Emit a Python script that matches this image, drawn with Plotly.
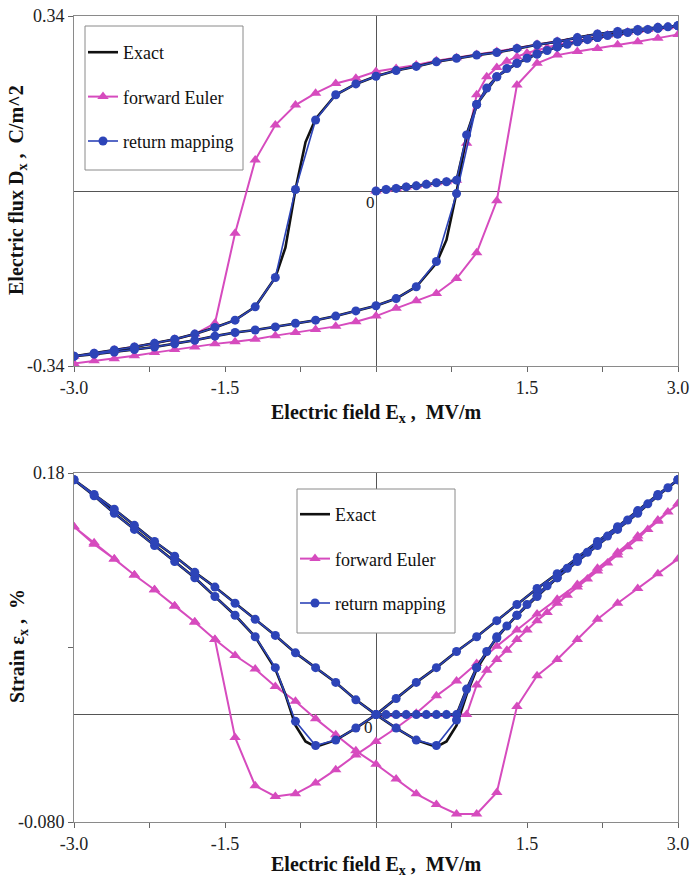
import plotly.graph_objects as go

# ---------------- field grids (MV/m) ----------------
E_LOAD = [0.0, 0.1, 0.2, 0.3, 0.4, 0.5, 0.6, 0.7, 0.8, 0.9, 1.0, 1.1, 1.2, 1.3, 1.4, 1.5,
          1.6, 1.7, 1.8, 1.9, 2.0, 2.1, 2.2, 2.3, 2.4, 2.5, 2.6, 2.7, 2.8, 2.9, 3.0]
E_DOWN = [3.0, 2.8, 2.6, 2.4, 2.2, 2.0, 1.8, 1.6, 1.4, 1.2, 1.0, 0.8, 0.6, 0.4, 0.2, 0.0,
          -0.2, -0.4, -0.6, -0.8, -1.0, -1.2, -1.4, -1.6, -1.8, -2.0, -2.2, -2.4, -2.6, -2.8, -3.0]
E_UP = [-3.0, -2.8, -2.6, -2.4, -2.2, -2.0, -1.8, -1.6, -1.4, -1.2, -1.0, -0.8, -0.6, -0.4, -0.2, 0.0,
        0.2, 0.4, 0.6, 0.8, 1.0, 1.2, 1.4, 1.6, 1.8, 2.0, 2.2, 2.4, 2.6, 2.8, 3.0]
E_DOWN_EXACT = [3.0, 2.8, 2.6, 2.4, 2.2, 2.0, 1.8, 1.6, 1.4, 1.2, 1.0, 0.8, 0.6, 0.4, 0.2, 0.0,
                -0.2, -0.4, -0.6, -0.7, -0.8, -0.9, -1.0, -1.2, -1.4, -1.6, -1.8, -2.0, -2.2, -2.4,
                -2.6, -2.8, -3.0]
E_UP_EXACT = [-3.0, -2.8, -2.6, -2.4, -2.2, -2.0, -1.8, -1.6, -1.4, -1.2, -1.0, -0.8, -0.6, -0.4,
              -0.2, 0.0, 0.2, 0.4, 0.6, 0.7, 0.8, 0.9, 1.0, 1.2, 1.4, 1.6, 1.8, 2.0, 2.2, 2.4,
              2.6, 2.8, 3.0]

# ---------------- electric flux D (C/m^2) ----------------
D_EXACT_LOAD = [0.000, 0.003, 0.005, 0.008, 0.010, 0.013, 0.016, 0.018, 0.021, 0.105, 0.166,
                0.200, 0.222, 0.237, 0.248, 0.258, 0.266, 0.273, 0.280, 0.285, 0.290, 0.294,
                0.298, 0.302, 0.305, 0.308, 0.311, 0.314, 0.316, 0.319, 0.321]
D_EXACT_DOWN = [0.321, 0.318, 0.314, 0.310, 0.305, 0.298, 0.290, 0.284, 0.277, 0.269, 0.264,
                0.258, 0.251, 0.242, 0.234, 0.223, 0.208, 0.187, 0.140, 0.095, 0.003, -0.110,
                -0.168, -0.225, -0.251, -0.265, -0.278, -0.288, -0.296, -0.303, -0.309, -0.315,
                -0.321]
D_EXACT_UP = [-0.321, -0.317, -0.313, -0.308, -0.303, -0.297, -0.290, -0.282, -0.275, -0.270,
              -0.264, -0.257, -0.251, -0.243, -0.233, -0.223, -0.209, -0.186, -0.140, -0.095,
              -0.003, 0.110, 0.168, 0.222, 0.248, 0.266, 0.280, 0.290, 0.298, 0.305, 0.311,
              0.316, 0.321]

D_FE_LOAD = [0.000, 0.003, 0.005, 0.008, 0.010, 0.013, 0.016, 0.018, 0.021, 0.093, 0.187,
             0.222, 0.240, 0.252, 0.261, 0.268, 0.274, 0.279, 0.284, 0.288, 0.292, 0.296,
             0.300, 0.303, 0.306, 0.309, 0.312, 0.314, 0.317, 0.319, 0.321]
D_FE_DOWN = [0.321, 0.318, 0.314, 0.310, 0.305, 0.298, 0.291, 0.285, 0.278, 0.271, 0.265,
             0.259, 0.253, 0.245, 0.238, 0.232, 0.219, 0.209, 0.190, 0.167, 0.128, 0.060,
             -0.082, -0.257, -0.278, -0.288, -0.296, -0.303, -0.309, -0.315, -0.321]
D_FE_UP = [-0.335, -0.330, -0.326, -0.320, -0.314, -0.308, -0.303, -0.297, -0.293, -0.288,
           -0.281, -0.275, -0.269, -0.263, -0.254, -0.243, -0.228, -0.213, -0.199, -0.170,
           -0.120, -0.019, 0.206, 0.248, 0.264, 0.271, 0.277, 0.284, 0.290, 0.297, 0.304]

D_RM_LOAD = [0.000, 0.003, 0.005, 0.008, 0.010, 0.013, 0.016, 0.018, 0.021, 0.109, 0.168,
             0.200, 0.222, 0.238, 0.248, 0.258, 0.266, 0.273, 0.280, 0.285, 0.290, 0.294,
             0.298, 0.302, 0.305, 0.308, 0.311, 0.314, 0.316, 0.319, 0.321]
D_RM_DOWN = [0.321, 0.318, 0.314, 0.310, 0.305, 0.298, 0.290, 0.284, 0.277, 0.269, 0.264,
             0.258, 0.251, 0.242, 0.234, 0.223, 0.208, 0.187, 0.138, 0.003, -0.168, -0.225,
             -0.251, -0.265, -0.278, -0.288, -0.296, -0.303, -0.309, -0.315, -0.321]
D_RM_UP = [-0.321, -0.317, -0.313, -0.308, -0.303, -0.297, -0.290, -0.282, -0.275, -0.270,
           -0.264, -0.257, -0.251, -0.243, -0.233, -0.223, -0.209, -0.186, -0.137, -0.005,
           0.168, 0.222, 0.248, 0.266, 0.280, 0.290, 0.298, 0.305, 0.311, 0.316, 0.321]

# ---------------- strain (%) ----------------
S_EXACT_LOAD = [0.0, 0.0, 0.0, 0.0, 0.0, 0.0, 0.0, 0.0, 0.0, 0.019, 0.035, 0.047, 0.057,
                0.066, 0.074, 0.082, 0.089, 0.096, 0.102, 0.109, 0.115, 0.121, 0.127, 0.133,
                0.139, 0.145, 0.151, 0.157, 0.163, 0.169, 0.175]
S_EXACT_DOWN = [0.175, 0.164, 0.152, 0.140, 0.129, 0.117, 0.105, 0.094, 0.082, 0.070, 0.058,
                0.047, 0.035, 0.024, 0.012, 0.000, -0.010, -0.019, -0.024, -0.020, -0.008,
                0.015, 0.034, 0.058, 0.074, 0.088, 0.102, 0.114, 0.126, 0.138, 0.150, 0.163,
                0.175]
S_EXACT_UP = [0.175, 0.164, 0.153, 0.141, 0.129, 0.118, 0.106, 0.095, 0.083, 0.071, 0.059,
              0.046, 0.035, 0.024, 0.011, 0.000, -0.010, -0.019, -0.024, -0.020, -0.008,
              0.015, 0.034, 0.058, 0.074, 0.088, 0.102, 0.114, 0.126, 0.138, 0.150, 0.163,
              0.175]

S_FE_LOAD = [0.0, 0.0, 0.0, 0.0, 0.0, 0.0, 0.0, 0.0, 0.0, 0.0, 0.022, 0.033, 0.041, 0.048,
             0.056, 0.063, 0.070, 0.076, 0.083, 0.089, 0.095, 0.101, 0.107, 0.113, 0.119,
             0.125, 0.131, 0.138, 0.144, 0.151, 0.157]
S_FE_DOWN = [0.157, 0.145, 0.133, 0.121, 0.109, 0.097, 0.086, 0.075, 0.063, 0.051, 0.038,
             0.025, 0.014, 0.001, -0.010, -0.020, -0.030, -0.041, -0.051, -0.059, -0.061,
             -0.053, -0.017, 0.056, 0.069, 0.081, 0.093, 0.104, 0.116, 0.128, 0.140]
S_FE_UP = [0.140, 0.127, 0.116, 0.104, 0.093, 0.081, 0.069, 0.056, 0.044, 0.034, 0.021,
           0.010, -0.003, -0.015, -0.027, -0.037, -0.048, -0.059, -0.067, -0.074, -0.074,
           -0.058, 0.006, 0.029, 0.041, 0.056, 0.071, 0.083, 0.094, 0.105, 0.116]

S_RM_LOAD = [0.0, 0.0, 0.0, 0.0, 0.0, 0.0, 0.0, 0.0, 0.0, 0.019, 0.035, 0.047, 0.057, 0.066,
             0.074, 0.082, 0.089, 0.096, 0.102, 0.109, 0.115, 0.121, 0.127, 0.133, 0.139,
             0.145, 0.151, 0.157, 0.163, 0.169, 0.175]
S_RM_DOWN = [0.175, 0.164, 0.152, 0.140, 0.129, 0.117, 0.105, 0.094, 0.082, 0.070, 0.058,
             0.047, 0.035, 0.024, 0.012, 0.000, -0.010, -0.019, -0.023, -0.005, 0.035, 0.058,
             0.074, 0.088, 0.102, 0.114, 0.126, 0.138, 0.150, 0.163, 0.175]
S_RM_UP = [0.175, 0.164, 0.153, 0.141, 0.129, 0.118, 0.106, 0.095, 0.083, 0.071, 0.059,
           0.046, 0.035, 0.024, 0.011, 0.000, -0.010, -0.019, -0.023, -0.004, 0.035, 0.058,
           0.074, 0.088, 0.102, 0.114, 0.126, 0.138, 0.150, 0.163, 0.175]

# ---------------- axis ticks ----------------
X_TICKS = [-3.0, -1.5, 1.5, 3.0]
X_TICK_TEXT = ["-3.0", "-1.5", "1.5", "3.0"]
X_MINOR = [-2.25, -0.75, 0.0, 0.75, 2.25]
D_TICKS = [-0.34, 0.34]
D_TICK_TEXT = ["-0.34", "0.34"]
S_TICKS = [-0.08, 0.18]
S_TICK_TEXT = ["-0.080", "0.18"]
S_MINOR = [0.05]

BLACK = "#111111"
PINK = "#D64BBE"
BLUE = "#2D44B8"
SERIF = '"Liberation Serif", "Times New Roman", Times, serif'
W, H = 693, 882

E_EX = E_LOAD + E_DOWN_EXACT + E_UP_EXACT
E_ALL = E_LOAD + E_DOWN + E_UP

fig = go.Figure()


def add_panel(xa, ya, leg, d_exact, d_fe, d_rm):
    fig.add_trace(go.Scatter(
        x=E_ALL, y=d_fe, name="forward Euler", mode="lines+markers",
        line=dict(color=PINK, width=2),
        marker=dict(symbol="triangle-up", size=10, color=PINK),
        xaxis=xa, yaxis=ya, legend=leg, legendrank=2, legendgroup=leg + "fe"))
    fig.add_trace(go.Scatter(
        x=E_EX, y=d_exact, name="Exact", mode="lines",
        line=dict(color=BLACK, width=2.6),
        xaxis=xa, yaxis=ya, legend=leg, legendrank=1, legendgroup=leg + "ex"))
    fig.add_trace(go.Scatter(
        x=E_ALL, y=d_rm, name="return mapping", mode="lines+markers",
        line=dict(color=BLUE, width=1.6),
        marker=dict(symbol="circle", size=9, color=BLUE),
        xaxis=xa, yaxis=ya, legend=leg, legendrank=3, legendgroup=leg + "rm"))


add_panel("x", "y", "legend",
          D_EXACT_LOAD + D_EXACT_DOWN + D_EXACT_UP,
          D_FE_LOAD + D_FE_DOWN + D_FE_UP,
          D_RM_LOAD + D_RM_DOWN + D_RM_UP)
add_panel("x2", "y2", "legend2",
          S_EXACT_LOAD + S_EXACT_DOWN + S_EXACT_UP,
          S_FE_LOAD + S_FE_DOWN + S_FE_UP,
          S_RM_LOAD + S_RM_DOWN + S_RM_UP)


def px_x(p):
    return p / W


def px_y(p):
    return 1 - p / H


tick_font = dict(family=SERIF, size=18, color="#222222")
axis_common = dict(ticks="outside", ticklen=5, tickcolor="#666666", tickfont=tick_font,
                   showgrid=False, showline=True, linecolor="#8a8a8a", linewidth=1,
                   mirror=True, zeroline=True, zerolinecolor="#555555", zerolinewidth=1.2,
                   automargin=False)


def xaxis(domain, anchor):
    return dict(domain=domain, anchor=anchor, range=[-3.0, 3.0], tickmode="array",
                tickvals=X_TICKS, ticktext=X_TICK_TEXT,
                minor=dict(tickmode="array", tickvals=X_MINOR, ticks="outside",
                           ticklen=5, tickcolor="#666666", showgrid=False),
                **axis_common)


def yaxis(domain, anchor, rng, vals, text, minor_vals=None):
    ax = dict(domain=domain, anchor=anchor, range=rng, tickmode="array",
              tickvals=vals, ticktext=text, **axis_common)
    if minor_vals:
        ax["minor"] = dict(tickmode="array", tickvals=minor_vals, ticks="outside",
                           ticklen=5, tickcolor="#666666", showgrid=False)
    return ax


# legend entries float inside a framed white box drawn as a shape
legend_style = dict(bgcolor="rgba(0,0,0,0)", borderwidth=0,
                    font=dict(family=SERIF, size=18, color="#111111"),
                    xanchor="left", yanchor="top", tracegroupgap=18,
                    itemwidth=30, traceorder="grouped")


def legend_frame(x0, y0, x1, y1):
    return dict(type="rect", xref="paper", yref="paper",
                x0=px_x(x0), x1=px_x(x1), y0=px_y(y1), y1=px_y(y0),
                line=dict(color="#8a8a8a", width=1), fillcolor="white", layer="above")


title_font = dict(family=SERIF, size=20, color="#111111")
zero_font = dict(family=SERIF, size=17, color="#222222")


def note(text, x, y, angle=0, font=title_font):
    return dict(text=text, x=px_x(x), y=px_y(y), xref="paper", yref="paper",
                xanchor="center", yanchor="middle", showarrow=False,
                textangle=angle, font=font)


annotations = [
    note("<b>Electric field E<sub>x</sub> ,  MV/m</b>", 376, 413),
    note("<b>Electric field E<sub>x</sub> ,  MV/m</b>", 376, 865),
    note("<b>Electric flux D<sub>x</sub> ,  C/m^2</b>", 18, 190, angle=-90),
    note("<b>Strain ε<sub>x</sub> ,  %</b>", 18, 646, angle=-90),
    note("0", 370, 203, font=zero_font),
    note("0", 369, 727, font=zero_font),
]

fig.update_layout(
    width=W, height=H, margin=dict(l=0, r=0, t=0, b=0, pad=0, autoexpand=False),
    paper_bgcolor="white", plot_bgcolor="white", showlegend=True,
    font=dict(family=SERIF),
    xaxis=xaxis([px_x(74), px_x(678)], "y"),
    yaxis=yaxis([px_y(366), px_y(16)], "x", [-0.34, 0.34], D_TICKS, D_TICK_TEXT),
    xaxis2=xaxis([px_x(74), px_x(678)], "y2"),
    yaxis2=yaxis([px_y(822), px_y(473)], "x2", [-0.08, 0.18], S_TICKS, S_TICK_TEXT, S_MINOR),
    legend=dict(x=px_x(83), y=px_y(34), **legend_style),
    legend2=dict(x=px_x(295), y=px_y(496), **legend_style),
    shapes=[legend_frame(85, 26, 243, 170), legend_frame(297, 489, 455, 633)],
    annotations=annotations,
)

fig.write_html("out.html")
